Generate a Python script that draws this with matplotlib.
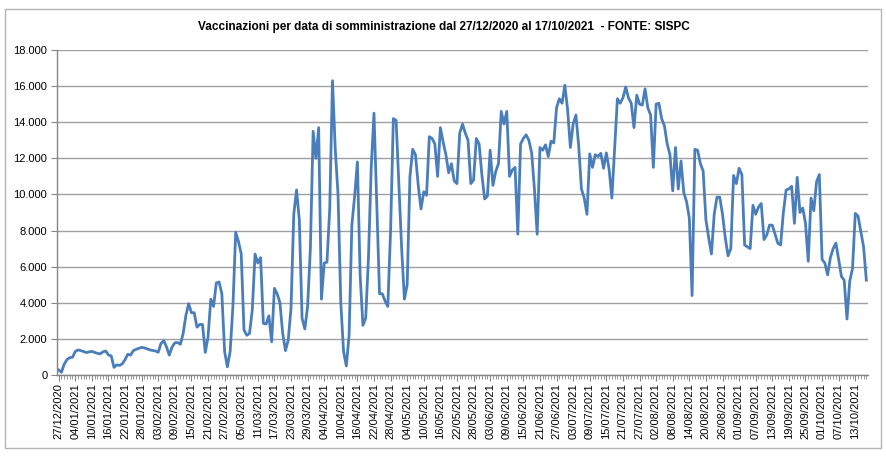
import matplotlib
matplotlib.use("Agg")
import matplotlib.pyplot as plt
from matplotlib.ticker import FuncFormatter, MultipleLocator, FixedLocator
from matplotlib.patches import Rectangle
import datetime as dt

title = "Vaccinazioni per data di somministrazione dal 27/12/2020 al 17/10/2021  - FONTE: SISPC"

values = [
    280, 150, 600, 850, 960, 980, 1300, 1390, 1350, 1300,
    1240, 1280, 1310, 1250, 1200, 1170, 1280, 1330, 1110, 1060,
    420, 560, 530, 620, 850, 1150, 1100, 1350, 1420, 1480,
    1530, 1500, 1450, 1390, 1360, 1330, 1260, 1750, 1900, 1550,
    1100, 1550, 1780, 1800, 1700, 2300, 3300, 3950, 3450, 3450,
    2650, 2800, 2800, 1250, 2100, 4200, 3800, 5100, 5150, 4500,
    1300, 450, 1300, 3800, 7900, 7400, 6700, 2500, 2200, 2300,
    3600, 6700, 6200, 6500, 2860, 2820, 3280, 1840, 4800, 4500,
    4000, 2300, 1350, 1940, 3700, 8900, 10250, 8600, 3140, 2550,
    3800, 7000, 13500, 12000, 13700, 4200, 6200, 6250, 9200, 16300,
    12500, 10000, 4000, 1300, 500, 2200, 8300, 9900, 11800, 5500,
    2750, 3150, 6500, 11500, 14500, 9500, 4500, 4500, 4100, 3800,
    8000, 14200, 14100, 10500, 7000, 4200, 5000, 11000, 12500, 12200,
    10500, 9200, 10150, 9950, 13200, 13100, 12800, 11000, 13700, 12900,
    12200, 11200, 11700, 10750, 10600, 13400, 13900, 13400, 13000, 10600,
    10800, 13100, 12800, 11100, 9750, 9900, 12450, 10500, 11270, 11700,
    14600, 13900, 14600, 11000, 11350, 11500, 7800, 12800, 13100, 13300,
    13000, 12300, 10300, 7800, 12600, 12450, 12750, 12100, 12950, 12850,
    14800, 15300, 15050, 16050, 14700, 12600, 13900, 14400, 12700, 10300,
    9800, 8900, 12250, 11500, 12200, 12100, 12280, 11450, 12300, 11400,
    9800, 12500, 15300, 15050, 15350, 15950, 15350, 15050, 13700, 15500,
    15000, 14950, 15850, 14800, 14400, 11500, 15000, 15050, 14200, 13800,
    12800, 12200, 10200, 12600, 10300, 11850, 10100, 9600, 8700, 4400,
    12500, 12450, 11700, 11300, 8600, 7600, 6700, 8900, 9850, 9850,
    8900, 7600, 6600, 7000, 11050, 10600, 11450, 11100, 7200, 7100,
    7000, 9400, 8900, 9300, 9500, 7500, 7750, 8300, 8300, 7800,
    7300, 7200, 9000, 10250, 10300, 10450, 8400, 10950, 9000, 9250,
    8400, 6300, 9800, 9100, 10700, 11100, 6400, 6200, 5550, 6500,
    7000, 7300, 6400, 5450, 5250, 3100, 5200, 5900, 8950, 8800,
    7950, 7100, 5250,
]

# tick labels: first day, then every 6 days from 04/01/2021
first_label = "27/12/2020"
label_start = dt.date(2021, 1, 4)
label_step_days = 6
n_labels = 48

x = list(range(len(values)))
tick_pos = [0] + [6 + k * label_step_days for k in range(n_labels)]
tick_labels = [first_label] + [
    (label_start + dt.timedelta(days=k * label_step_days)).strftime("%d/%m/%Y")
    for k in range(n_labels)
]

plt.rcParams['font.family'] = ['Liberation Sans', 'DejaVu Sans']

fig = plt.figure(figsize=(8.87, 4.58), dpi=100)
ax = fig.add_axes([57 / 887, 1 - 375 / 458, (868 - 57) / 887, (375 - 50) / 458])

ax.plot(x, values, color='#4a7ebb', linewidth=2.0, solid_joinstyle='round')

ax.set_xlim(-0.6, len(values) - 0.4)
ax.set_ylim(0, 18000)
ax.yaxis.set_major_locator(MultipleLocator(2000))
ax.yaxis.set_major_formatter(FuncFormatter(
    lambda v, p: "0" if v == 0 else f"{int(v):,}".replace(",", ".")))
ax.grid(axis='y', color='#a0a0a0', linewidth=1.0)
ax.set_axisbelow(True)

ax.xaxis.set_major_locator(FixedLocator(tick_pos))
ax.set_xticklabels(tick_labels, rotation=90, fontsize=8)
ax.xaxis.set_minor_locator(MultipleLocator(1))
ax.tick_params(axis='x', which='major', length=4, color='#868686', pad=2)
ax.tick_params(axis='x', which='minor', length=3, color='#868686')
ax.tick_params(axis='y', length=4, color='#868686', labelsize=8, pad=3)

for s in ['top', 'right']:
    ax.spines[s].set_visible(False)
for s in ['left', 'bottom']:
    ax.spines[s].set_color('#868686')
    ax.spines[s].set_linewidth(1.0)

fig.text(0.5, 1 - 27 / 458, title, ha='center', va='center',
         fontsize=8.5, fontweight='bold')

fig.patches.append(Rectangle((5 / 887, 1 - 448 / 458), 876 / 887, 439 / 458,
                             transform=fig.transFigure, fill=False,
                             edgecolor='#b4b4b4', linewidth=1.0))

fig.savefig("out.png", dpi=100)
